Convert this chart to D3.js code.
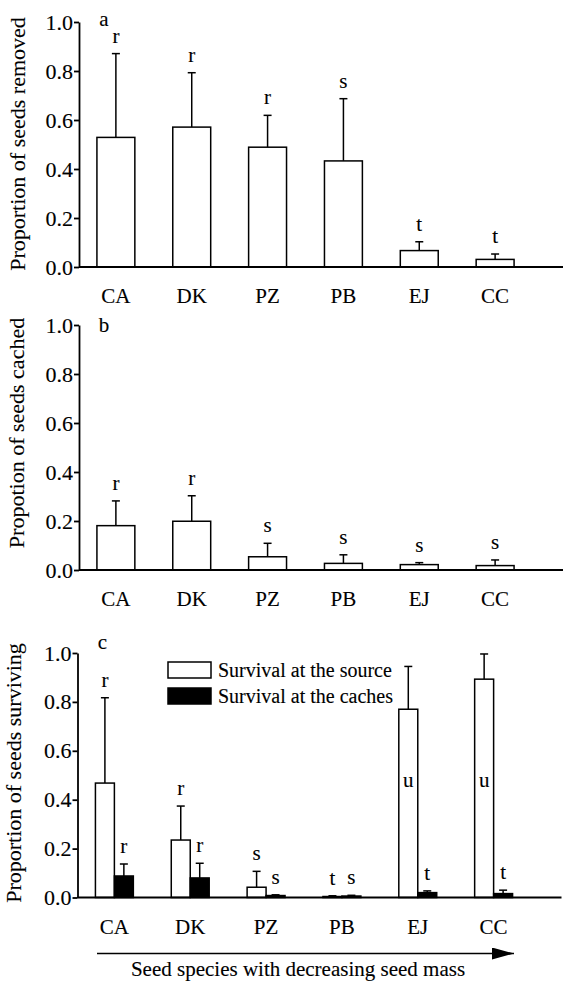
<!DOCTYPE html>
<html>
<head>
<meta charset="utf-8">
<script src="https://cdn.jsdelivr.net/npm/d3@7"></script>
<style>
  body { margin: 0; background: #fff; }
</style>
</head>
<body>
<div id="chart"></div>
<script>
// species, ordered by decreasing seed mass
const species = ["CA", "DK", "PZ", "PB", "EJ", "CC"];

// panel a: proportion of seeds removed
const removedMean = [0.529, 0.571, 0.489, 0.433, 0.067, 0.031];
const removedSE = [0.342, 0.222, 0.130, 0.254, 0.036, 0.022];
const removedLetters = ["r", "r", "r", "s", "t", "t"];

// panel b: proportion of seeds cached
const cachedMean = [0.181, 0.199, 0.054, 0.027, 0.022, 0.018];
const cachedSE = [0.101, 0.104, 0.055, 0.035, 0.008, 0.023];
const cachedLetters = ["r", "r", "s", "s", "s", "s"];

// panel c: survival at the source / at the caches
const sourceMean = [0.468, 0.235, 0.042, 0.004, 0.770, 0.893];
const sourceSE = [0.349, 0.139, 0.065, 0.003, 0.175, 0.103];
const sourceLetters = ["r", "r", "s", "t", "u", "u"];
const cacheMean = [0.088, 0.080, 0.008, 0.006, 0.020, 0.016];
const cacheSE = [0.049, 0.060, 0.003, 0.003, 0.007, 0.014];
const cacheLetters = ["r", "r", "s", "s", "t", "t"];

const seriesNames = ["Survival at the source", "Survival at the caches"];
const yTicks = [0, 0.2, 0.4, 0.6, 0.8, 1.0];

const W = 563, H = 982;
const FONT = "'Liberation Serif', serif";
const fs = 21;

const svg = d3.select("#chart").append("svg")
    .attr("width", W)
    .attr("height", H);

// all text in the figure goes through here
function label(sel, size) {
    return sel.style("font-family", FONT)
        .style("font-size", size + "px")
        .attr("fill", "#000")
        .attr("stroke", "#000")
        .attr("stroke-width", 0.12);
}

function drawPanel(opt) {
    let g = svg.append("g").attr("transform", "translate(" + opt.dx + ",0)");

    let y = d3.scaleLinear().domain([0, 1]).range([opt.y0, opt.y1]);
    let x = d3.scaleBand().domain(species)
        .range([59, 552])
        .paddingInner(0.5)
        .paddingOuter(0.5);

    // y axis
    let yAxis = d3.axisLeft(y)
        .tickValues(yTicks)
        .tickFormat(d3.format(".1f"))
        .tickSize(5)
        .tickSizeOuter(0)
        .tickPadding(1);
    let ya = g.append("g")
        .attr("transform", "translate(79,0)")
        .call(yAxis)
        .attr("font-family", null)
        .attr("font-size", null);
    ya.select(".domain").attr("stroke-width", 1.8);
    ya.selectAll(".tick line").attr("stroke-width", 1.8);
    label(ya.selectAll(".tick text"), 22);

    // y title
    label(g.append("text"), 22)
        .attr("transform", "translate(" + opt.titleX + "," + opt.titleY + ") rotate(-90)")
        .attr("text-anchor", "middle")
        .text(opt.title);

    // panel letter
    label(g.append("text"), fs)
        .attr("x", 104)
        .attr("y", opt.y1 + opt.tagDy)
        .attr("text-anchor", "middle")
        .text(opt.tag);

    // bars
    let sub = d3.scaleBand().domain(d3.range(opt.series.length))
        .range([0, x.bandwidth()]);

    opt.series.forEach((s, k) => {
        let bx = (i) => x(species[i]) + sub(k);
        let bw = sub.bandwidth();
        let grp = g.append("g");

        // error bars (upper only)
        grp.selectAll("line.err").data(s.mean)
            .enter().append("line")
            .attr("class", "err")
            .attr("x1", (d, i) => bx(i) + bw / 2)
            .attr("x2", (d, i) => bx(i) + bw / 2)
            .attr("y1", (d) => y(d))
            .attr("y2", (d, i) => y(d + s.se[i]))
            .attr("stroke", "#000")
            .attr("stroke-width", 1.5);

        grp.selectAll("line.cap").data(s.mean)
            .enter().append("line")
            .attr("class", "cap")
            .attr("x1", (d, i) => bx(i) + bw / 2 - 4)
            .attr("x2", (d, i) => bx(i) + bw / 2 + 4)
            .attr("y1", (d, i) => y(d + s.se[i]))
            .attr("y2", (d, i) => y(d + s.se[i]))
            .attr("stroke", "#000")
            .attr("stroke-width", 1.5);

        grp.selectAll("rect").data(s.mean)
            .enter().append("rect")
            .attr("x", (d, i) => bx(i))
            .attr("y", (d) => y(d))
            .attr("width", bw)
            .attr("height", (d) => y(0) - y(d))
            .attr("fill", s.fill)
            .attr("stroke", "#000")
            .attr("stroke-width", 1.5);

        // significance letters
        label(grp.selectAll("text").data(s.letters).enter().append("text"), fs)
            .attr("x", (d, i) => bx(i) + bw / 2)
            .attr("y", (d, i) => d === "u" ? y(0.45) : y(s.mean[i] + s.se[i]) - 11)
            .attr("text-anchor", "middle")
            .text((d) => d);
    });

    // x axis line
    g.append("line")
        .attr("x1", 79).attr("x2", W)
        .attr("y1", y(0)).attr("y2", y(0))
        .attr("stroke", "#000")
        .attr("stroke-width", 1.8);

    // category labels
    label(g.selectAll("text.cat").data(species).enter().append("text"), fs)
        .attr("class", "cat")
        .attr("x", (d) => x(d) + x.bandwidth() / 2)
        .attr("y", y(0) + 36)
        .attr("text-anchor", "middle")
        .text((d) => d);

    return { g: g, x: x, y: y };
}

drawPanel({
    y0: 267, y1: 22, dx: 0, tag: "a", tagDy: 4,
    title: "Proportion of seeds removed", titleX: 25, titleY: 144,
    series: [{ mean: removedMean, se: removedSE, letters: removedLetters, fill: "#fff" }]
});

drawPanel({
    y0: 570, y1: 325, dx: 0, tag: "b", tagDy: 7,
    title: "Propotion of seeds cached", titleX: 24, titleY: 433,
    series: [{ mean: cachedMean, se: cachedSE, letters: cachedLetters, fill: "#fff" }]
});

let pc = drawPanel({
    y0: 897.5, y1: 653, dx: -1.5, tag: "c", tagDy: -4,
    title: "Proportion of seeds surviving", titleX: 22, titleY: 773,
    series: [
        { mean: sourceMean, se: sourceSE, letters: sourceLetters, fill: "#fff" },
        { mean: cacheMean, se: cacheSE, letters: cacheLetters, fill: "#000" }
    ]
});

// legend for panel c
let legend = pc.g.append("g").attr("transform", "translate(169.5,662)");
seriesNames.forEach((name, i) => {
    legend.append("rect")
        .attr("x", 0)
        .attr("y", i * 26)
        .attr("width", 43)
        .attr("height", 16)
        .attr("fill", i === 0 ? "#fff" : "#000")
        .attr("stroke", "#000")
        .attr("stroke-width", 1.5);
    label(legend.append("text"), 20)
        .attr("x", 50)
        .attr("y", i * 26 + 15)
        .text(name);
});

// arrow under panel c
svg.append("defs").append("marker")
    .attr("id", "arrowhead")
    .attr("viewBox", "0 0 22 12")
    .attr("refX", 22).attr("refY", 6)
    .attr("markerWidth", 22).attr("markerHeight", 12)
    .attr("markerUnits", "userSpaceOnUse")
    .attr("orient", "auto")
    .append("path")
    .attr("d", "M0,0 L22,6 L0,12 Z")
    .attr("fill", "#000");

svg.append("line")
    .attr("x1", 97).attr("x2", 514)
    .attr("y1", 953.5).attr("y2", 953.5)
    .attr("stroke", "#000")
    .attr("stroke-width", 1.5)
    .attr("marker-end", "url(#arrowhead)");

label(svg.append("text"), fs)
    .attr("x", 298)
    .attr("y", 976)
    .attr("text-anchor", "middle")
    .text("Seed species with decreasing seed mass");
</script>
</body>
</html>
